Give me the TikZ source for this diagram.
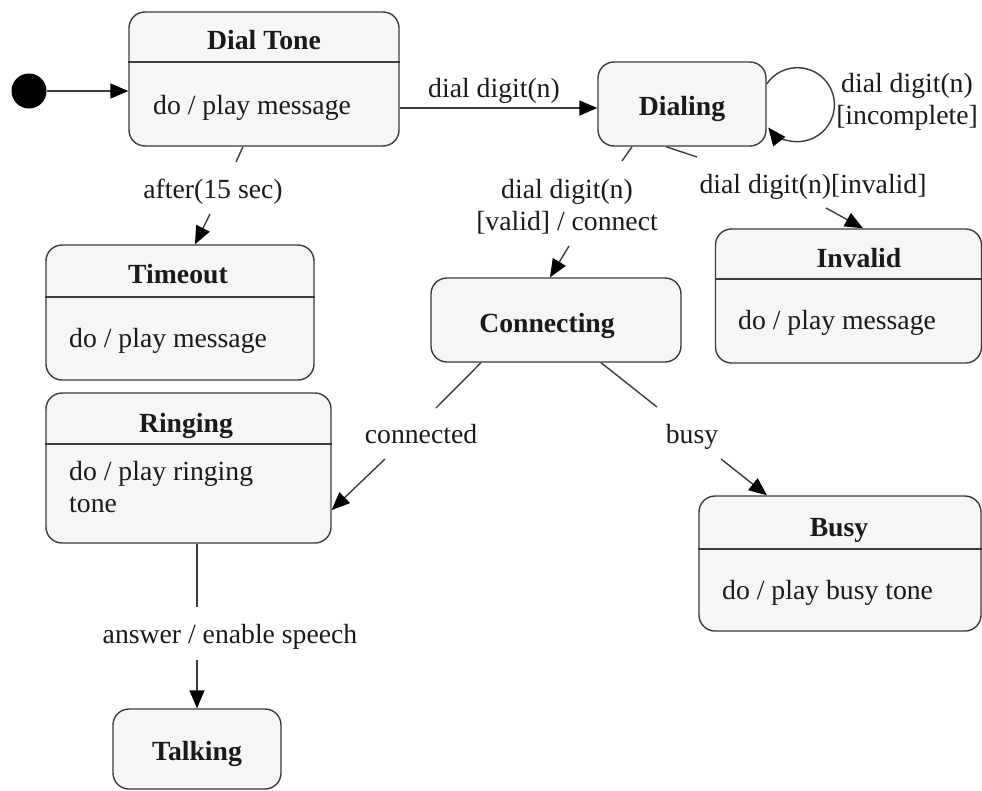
\documentclass[tikz,border=0pt]{standalone}
\usepackage{fontspec}
\setmainfont{Liberation Serif}
\usetikzlibrary{arrows.meta}
\definecolor{edge}{HTML}{3C3C3C}
\definecolor{boxfill}{HTML}{F6F6F6}
\definecolor{ink}{HTML}{1A1A1A}
\begin{document}
\begin{tikzpicture}[x=1pt,y=-1pt,
  state/.style={draw=edge, fill=boxfill, line width=1.4pt, rounded corners=16pt, inner sep=0pt},
  divider/.style={draw=edge, line width=1.4pt},
  title/.style={font=\fontsize{27.7}{32}\selectfont\bfseries, text=ink, inner sep=0pt, anchor=base},
  body/.style={font=\fontsize{27.7}{32}\selectfont, text=ink, inner sep=0pt, anchor=base west},
  lbl/.style={font=\fontsize{27.7}{32}\selectfont, text=ink, inner sep=0pt, align=center},
  line/.style={draw=edge, line width=1.4pt},
  arr/.style={line, -{Triangle[length=18pt,width=15pt,fill=black,color=black]}},
]
\useasboundingbox (0,0) rectangle (982,790);

% states
\node[state, minimum width=270pt, minimum height=134pt] (dt) at (264,79) {};
\node[state, minimum width=168pt, minimum height=84pt] (dl) at (682,104) {};
\node[state, minimum width=268pt, minimum height=135pt] (to) at (180,312.5) {};
\node[state, minimum width=285pt, minimum height=150pt] (rg) at (188.5,468) {};
\node[state, minimum width=250pt, minimum height=84pt] (cn) at (556,320) {};
\node[state, minimum width=266pt, minimum height=134pt] (iv) at (848.5,296) {};
\node[state, minimum width=282pt, minimum height=135pt] (bs) at (840,563.5) {};
\node[state, minimum width=168pt, minimum height=80pt] (tk) at (197,749) {};
\node[circle, fill=black, minimum size=35pt, inner sep=0pt] (init) at (29,91) {};

% dividers
\draw[divider] (dt.west |- 0,62) -- (dt.east |- 0,62);
\draw[divider] (to.west |- 0,297) -- (to.east |- 0,297);
\draw[divider] (rg.west |- 0,444) -- (rg.east |- 0,444);
\draw[divider] (iv.west |- 0,279) -- (iv.east |- 0,279);
\draw[divider] (bs.west |- 0,549) -- (bs.east |- 0,549);

% titles and bodies
\node[title] (dtT) at (264,49) {Dial Tone};
\node[body] (dtB) at (153,114) {do / play message};
\node[title] (dlT) at (682,115) {Dialing};
\node[title] (toT) at (178,283) {Timeout};
\node[body] (toB) at (69,347) {do / play message};
\node[title] (rgT) at (186,432) {Ringing};
\node[body] (rgB1) at (69,480) {do / play ringing};
\node[body] (rgB2) at (69,512) {tone};
\node[title] (cnT) at (547,332) {Connecting};
\node[title] (ivT) at (859,267) {Invalid};
\node[body] (ivB) at (738,329) {do / play message};
\node[title] (bsT) at (839,536) {Busy};
\node[body] (bsB) at (722,599) {do / play busy tone};
\node[title] (tkT) at (197,760) {Talking};

% gap coordinates
\coordinate (ga1) at (236,162); \coordinate (ga2) at (210,214);
\coordinate (gb1) at (622,161); \coordinate (gb2) at (569,246);
\coordinate (gc1) at (697,157); \coordinate (gc2) at (826,208);
\coordinate (gd1) at (436,408); \coordinate (gd2) at (385,459);
\coordinate (ge1) at (657,407); \coordinate (ge2) at (721,459);
\coordinate (gf1) at (197,607); \coordinate (gf2) at (197,660);

% connectors
\draw[arr] (init) -- (dt.west |- init);
\draw[arr] (dt.east |- 0,108) -- (dl.west |- 0,108);
\node[lbl, anchor=base] (l1) at (494,97) {dial digit(n)};

\draw[line] (243,0 |- dt.south) -- (ga1);
\draw[arr] (ga2) -- (195,0 |- to.north);
\node[lbl, anchor=base] (l2) at (213,198) {after(15 sec)};

\draw[arr] (dl.east |- 0,84) arc[start angle=214, end angle=502, radius=37];
\node[lbl] (l3) at (907,102) {dial digit(n)\\{}[incomplete]};

\draw[line] (632,0 |- dl.south) -- (gb1);
\draw[arr] (gb2) -- (550,0 |- cn.north);
\node[lbl] (l4) at (567,207) {dial digit(n)\\{}[valid] / connect};

\draw[line] (666,0 |- dl.south) -- (gc1);
\draw[arr] (gc2) -- (863,0 |- iv.north);
\node[lbl, anchor=base] (l5) at (813,193) {dial digit(n)[invalid]};

\draw[line] (481,0 |- cn.south) -- (gd1);
\draw[arr] (gd2) -- (rg.east |- 0,510);
\node[lbl, anchor=base] (l6) at (421,443) {connected};

\draw[line] (601,0 |- cn.south) -- (ge1);
\draw[arr] (ge2) -- (767,0 |- bs.north);
\node[lbl, anchor=base] (l7) at (692,443) {busy};

\draw[line] (tk.north |- rg.south) -- (gf1);
\draw[arr] (gf2) -- (tk.north);
\node[lbl, anchor=base] (l8) at (230,643) {answer / enable speech};
\end{tikzpicture}
\end{document}
